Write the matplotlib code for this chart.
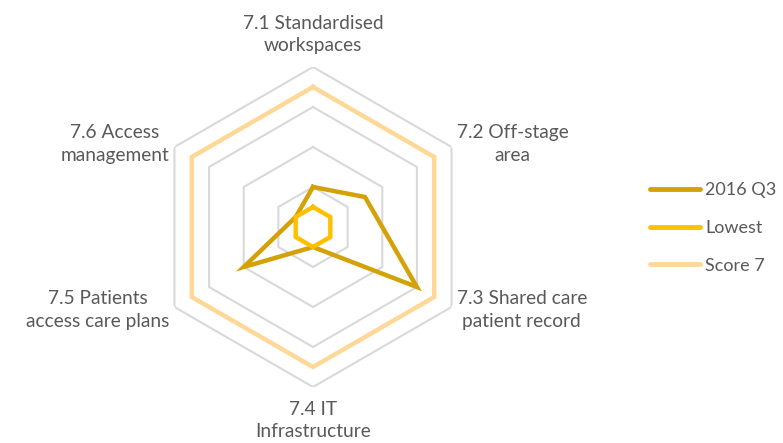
import numpy as np
import matplotlib
matplotlib.use("Agg")
import matplotlib.pyplot as plt

categories = [
    "7.1 Standardised\nworkspaces",
    "7.2 Off-stage\narea",
    "7.3 Shared care\npatient record",
    "7.4 IT\nInfrastructure",
    "7.5 Patients\naccess care plans",
    "7.6 Access\nmanagement",
]
q3_2016 = [2, 3, 6, 1, 4, 1]
lowest = [1, 1, 1, 1, 1, 1]
score_7 = [7, 7, 7, 7, 7, 7]
series_names = ["2016 Q3", "Lowest", "Score 7"]
series_colors = ["#D4A106", "#FFC000", "#FFD898"]

grid_levels = [2, 4, 6, 8]
r_max = 8

plt.rcParams["font.family"] = ["Lato", "DejaVu Sans"]

fig = plt.figure(figsize=(7.83, 4.43), dpi=100)
W, H = 783, 443
cx, cy, rad = 313, 227, 160
ax = fig.add_axes([(cx - rad) / W, (H - cy - rad) / H, 2 * rad / W, 2 * rad / H],
                  projection="polar")
ax.set_theta_offset(np.pi / 2)
ax.set_theta_direction(-1)
ax.set_ylim(0, r_max)
ax.grid(False)
ax.spines["polar"].set_visible(False)
ax.set_xticks([])
ax.set_yticks([])
ax.patch.set_alpha(0)

n = len(categories)
theta = np.linspace(0, 2 * np.pi, n, endpoint=False)
theta_c = np.append(theta, theta[0])


def closed(vals):
    return np.append(vals, vals[0])


for lvl in grid_levels:
    ax.plot(theta_c, [lvl] * (n + 1), color="#D9D9D9", lw=1.5, zorder=1)

for i, (vals, name) in enumerate(zip([q3_2016, lowest, score_7], series_names)):
    ax.plot(theta_c, closed(vals), color=series_colors[i], lw=3.2,
            label=name, zorder=3 + i, solid_joinstyle="miter")

# axis labels
offsets = [
    (0, 13, "center", "bottom"),
    (5, 3, "left", "center"),
    (5, -3, "left", "center"),
    (0, -14, "center", "top"),
    (-5, -3, "right", "center"),
    (-5, 3, "right", "center"),
]
for t, lab, (dx, dy, ha, va) in zip(theta, categories, offsets):
    ax.annotate(lab, xy=(t, r_max), xytext=(dx, dy), textcoords="offset pixels",
                ha=ha, va=va, multialignment="center", fontsize=13.8,
                color="#595959", linespacing=1.38, annotation_clip=False)

leg = fig.legend(loc="center left", bbox_to_anchor=(650 / W, 1 - 228 / H),
                 frameon=False, fontsize=13, handlelength=2.75,
                 handletextpad=0.3, labelspacing=1.2, borderpad=0,
                 borderaxespad=0)
for txt in leg.get_texts():
    txt.set_color("#595959")
for line in leg.get_lines():
    line.set_linewidth(3.5)
    line.set_solid_capstyle("round")

fig.savefig("out.png", dpi=100)
